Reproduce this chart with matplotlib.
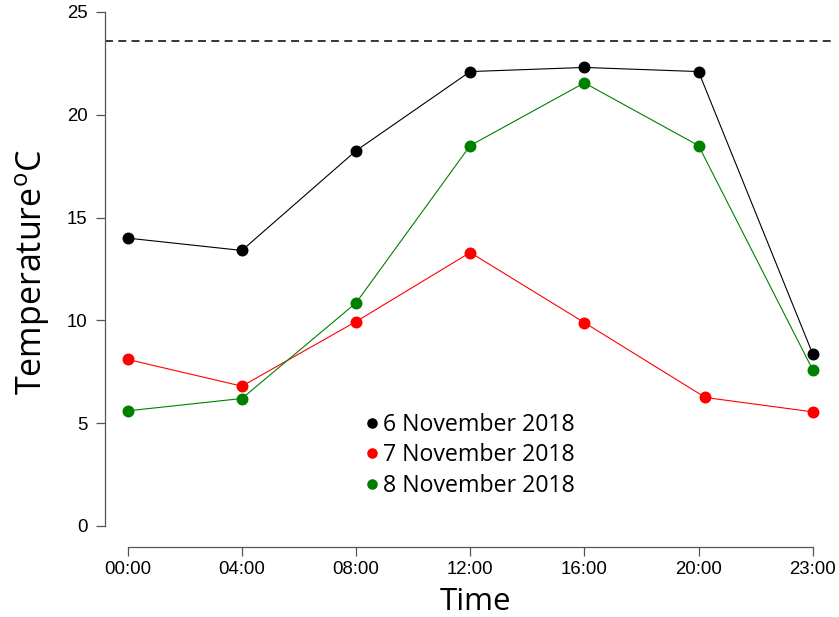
import matplotlib
matplotlib.use("Agg")
import matplotlib.pyplot as plt
from matplotlib.lines import Line2D

# Hourly readings (°C) on three consecutive days
times = ["00:00", "04:00", "08:00", "12:00", "16:00", "20:00", "23:00"]
day6 = [14.0, 13.4, 18.25, 22.1, 22.3, 22.1, 8.37]
day7 = [8.1, 6.8, 9.94, 13.3, 9.89, 6.25, 5.55]
day8 = [5.6, 6.2, 10.85, 18.5, 21.55, 18.5, 7.6]
day7_x = [0, 1, 2, 3, 4, 5.06, 6]
labels = ["6 November 2018", "7 November 2018", "8 November 2018"]
colors = ["black", "#FF0000", "#008000"]
threshold = 23.6

plt.rcParams["mathtext.fontset"] = "custom"
plt.rcParams["mathtext.rm"] = "Open Sans"

W, H = 839, 617
fig = plt.figure(figsize=(W / 100, H / 100), dpi=100)
# plot region in pixels: left 105, right 835.4, bottom 546.7, top 0
ax = fig.add_axes([105 / W, (H - 546.7) / H, (835.4 - 105) / W, 546.7 / H])

x = list(range(len(times)))
ax.plot(x, day6, color=colors[0], lw=0.8, marker="o", ms=8.6, mec="none", zorder=3)
ax.plot(day7_x, day7, color=colors[1], lw=0.8, marker="o", ms=8.6, mec="none", zorder=3)
ax.plot(x, day8, color=colors[2], lw=0.8, marker="o", ms=8.6, mec="none", zorder=3)

ax.axhline(threshold, color="black", lw=1.1, dashes=(5.2, 3.5), zorder=2)

ax.set_xlim(-0.199, 6.199)
ax.set_ylim(-1.007, 25.58)

for s in ["top", "right"]:
    ax.spines[s].set_visible(False)
for s in ["left", "bottom"]:
    ax.spines[s].set_color("#555555")
    ax.spines[s].set_linewidth(0.9)
ax.spines["left"].set_bounds(0, 25)
ax.spines["bottom"].set_bounds(0, 6)

ax.set_yticks([0, 5, 10, 15, 20, 25])
ax.set_xticks(x)
ax.set_xticklabels(times)
ax.tick_params(axis="both", length=6.5, width=0.9, color="#555555",
               labelsize=13.4, labelcolor="black")
ax.tick_params(axis="y", pad=6)
ax.tick_params(axis="x", pad=4)
for lab in ax.get_xticklabels() + ax.get_yticklabels():
    lab.set_fontfamily("Liberation Sans")

fig.text(475 / W, 1 - 610 / H, "Time", fontsize=22.5, family="Open Sans",
         ha="center", va="baseline")
fig.text(41.7 / W, 1 - 272.5 / H, r"Temperature$^{\mathrm{o}}$C", fontsize=24.5,
         family="Open Sans", rotation=90, rotation_mode="anchor",
         ha="center", va="baseline")

handles = [Line2D([], [], ls="none", marker="o", ms=7.6, color=c, mec="none")
           for c in colors]
ax.legend(handles, labels, loc="upper left", frameon=False,
          bbox_to_anchor=(364.7 / W, 1 - 412.7 / H), bbox_transform=fig.transFigure,
          prop={"family": "Open Sans", "size": 16.7},
          handlelength=0.6, handletextpad=0.2, labelspacing=0.29,
          borderpad=0, borderaxespad=0)

fig.savefig("out.png", dpi=100)
